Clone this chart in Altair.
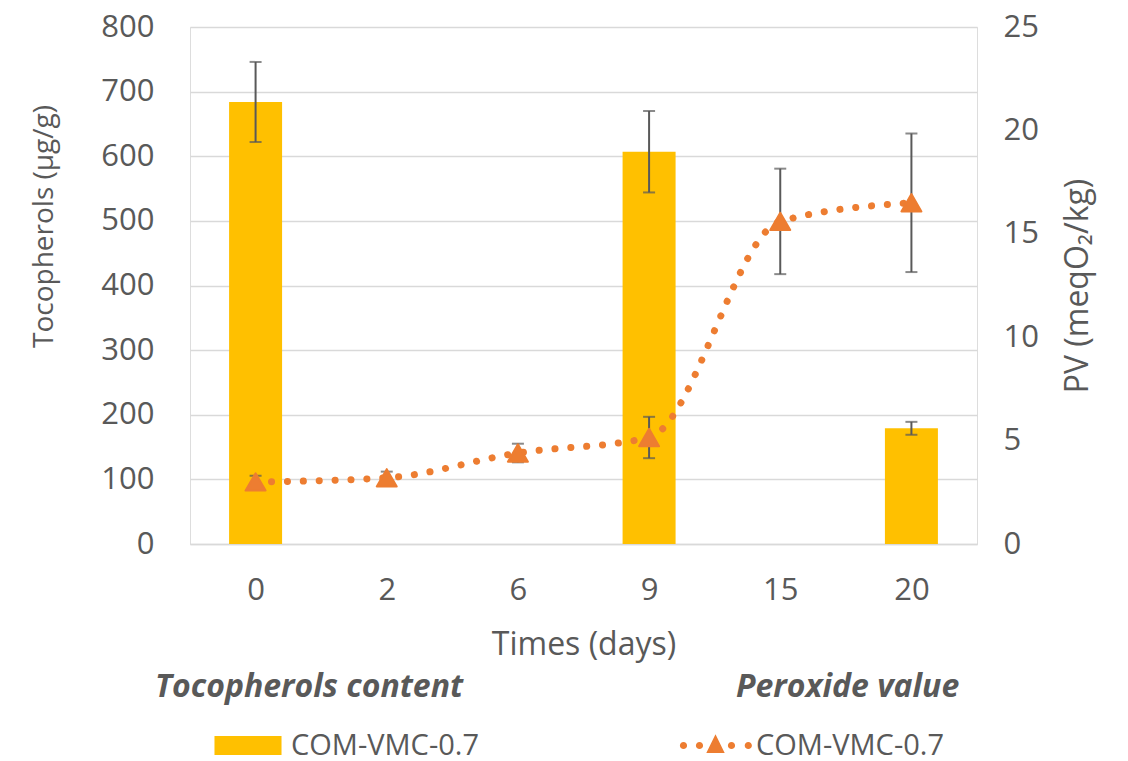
import altair as alt
import pandas as pd

# ---- data ----
days = ["0", "2", "6", "9", "15", "20"]
toco_days = ["0", "9", "20"]
toco = [684, 607, 179]
toco_sd = [62, 63, 10]
pv = [3.0, 3.2, 4.4, 5.15, 15.6, 16.5]
pv_sd = [0.3, 0.3, 0.45, 1.0, 2.55, 3.35]
series = "COM-VMC-0.7"

df_t = pd.DataFrame({
    "day": toco_days,
    "toco": toco,
    "lo": [v - s for v, s in zip(toco, toco_sd)],
    "hi": [v + s for v, s in zip(toco, toco_sd)],
    "tser": [series] * len(toco),
})
df_p = pd.DataFrame({
    "day": days,
    "pv": pv,
    "lo": [v - s for v, s in zip(pv, pv_sd)],
    "hi": [v + s for v, s in zip(pv, pv_sd)],
    "pser": [series] * len(pv),
})

FONT = "Open Sans"
GREY = "#595959"
GOLD = "#FFC000"
ORANGE = "#ED7D31"

x_enc = alt.X("day:O", sort=days, scale=alt.Scale(type="point", padding=0.5, domain=days),
              axis=alt.Axis(title="Times (days)", labelAngle=0, ticks=False, tickSize=0,
                            domain=True, domainColor="#D9D9D9", domainWidth=1.5,
                            labelFontSize=31, labelColor=GREY, labelFont=FONT, labelPadding=31,
                            titleFontSize=32, titleColor=GREY, titleFont=FONT,
                            titleFontWeight="normal", titlePadding=24))

y_left_scale = alt.Scale(domain=[0, 800], nice=False)
y_left_axis = alt.Axis(values=list(range(0, 801, 100)), grid=True, gridColor="#D9D9D9",
                       gridWidth=1.5, domain=False, ticks=False, tickSize=0,
                       labelFontSize=31, labelColor=GREY, labelFont=FONT, labelPadding=36,
                       title="Tocopherols (µg/g)", titleFontSize=28, titleColor=GREY,
                       titleFont=FONT, titleFontWeight="normal", titlePadding=42, titleY=199)

y_right_scale = alt.Scale(domain=[0, 25], nice=False)
y_right_axis = alt.Axis(orient="right", values=list(range(0, 26, 5)), grid=False,
                        domain=False, ticks=False, tickSize=0,
                        labelFontSize=31, labelColor=GREY, labelFont=FONT, labelPadding=26,
                        title="PV (meqO₂/kg)", titleFontSize=32, titleColor=GREY,
                        titleFont=FONT, titleFontWeight="normal", titlePadding=24,
                        titleAngle=270, titleBaseline="top")

# symbol unit = 8 px (symbolSize 256)
rect_sym = "M-4.19,-1.19L4.19,-1.19L4.19,1.19L-4.19,1.19Z"


def dot(cx, r=0.45):
    return (f"M{cx - r},0A{r},{r} 0 1,0 {cx + r},0A{r},{r} 0 1,0 {cx - r},0Z")


line_sym = dot(-4.0) + dot(-2.0) + dot(2.0) + dot(4.1) + "M0,-1.4L1.15,0.95L-1.15,0.95Z"

bars = alt.Chart(df_t).mark_bar(size=53).encode(
    x=x_enc,
    y=alt.Y("toco:Q", scale=y_left_scale, axis=y_left_axis),
    fill=alt.Fill("tser:N", scale=alt.Scale(domain=[series], range=[GOLD]),
                  legend=alt.Legend(orient="none", legendX=-35, legendY=645,
                                    title="Tocopherols content", titleFont=FONT,
                                    titleFontSize=32, titleFontWeight="bold",
                                    titleFontStyle="italic", titleColor=GREY,
                                    titlePadding=27, padding=0, titleLimit=600,
                                    labelFont=FONT, labelFontSize=29, labelColor=GREY,
                                    labelLimit=400,
                                    symbolType=rect_sym, symbolSize=256,
                                    symbolStrokeWidth=0, symbolOffset=78.5, labelOffset=28.5)),
)
bar_err = alt.Chart(df_t).mark_rule(color=GREY, strokeWidth=2).encode(
    x=alt.X("day:O", sort=days), y=alt.Y("lo:Q", scale=y_left_scale), y2="hi:Q")
bar_cap_lo = alt.Chart(df_t).mark_tick(color=GREY, size=12, thickness=2).encode(
    x=alt.X("day:O", sort=days), y=alt.Y("lo:Q", scale=y_left_scale))
bar_cap_hi = alt.Chart(df_t).mark_tick(color=GREY, size=12, thickness=2).encode(
    x=alt.X("day:O", sort=days), y=alt.Y("hi:Q", scale=y_left_scale))

left = alt.layer(bars, bar_err, bar_cap_lo, bar_cap_hi)

pv_line = alt.Chart(df_p).mark_line(color=ORANGE, strokeWidth=7, strokeCap="round",
                                     strokeDash=[0.1, 15.8], interpolate="monotone").encode(
    x=alt.X("day:O", sort=days),
    y=alt.Y("pv:Q", scale=y_right_scale, axis=y_right_axis),
)
pv_err = alt.Chart(df_p).mark_rule(color=GREY, strokeWidth=2).encode(
    x=alt.X("day:O", sort=days), y=alt.Y("lo:Q", scale=y_right_scale), y2="hi:Q")
pv_cap_lo = alt.Chart(df_p).mark_tick(color=GREY, size=12, thickness=2).encode(
    x=alt.X("day:O", sort=days), y=alt.Y("lo:Q", scale=y_right_scale))
pv_cap_hi = alt.Chart(df_p).mark_tick(color=GREY, size=12, thickness=2).encode(
    x=alt.X("day:O", sort=days), y=alt.Y("hi:Q", scale=y_right_scale))
pv_pts = alt.Chart(df_p).mark_point(shape="triangle-up", size=400, filled=True, opacity=1,
                                    stroke=ORANGE, strokeWidth=2, strokeJoin="round").encode(
    x=alt.X("day:O", sort=days),
    y=alt.Y("pv:Q", scale=y_right_scale),
    fill=alt.Fill("pser:N", scale=alt.Scale(domain=[series], range=[ORANGE]),
                  legend=alt.Legend(orient="none", legendX=546, legendY=645,
                                    title="Peroxide value", titleFont=FONT,
                                    titleFontSize=32, titleFontWeight="bold",
                                    titleFontStyle="italic", titleColor=GREY,
                                    titlePadding=27, padding=0, titleLimit=600,
                                    labelFont=FONT, labelFontSize=29, labelColor=GREY,
                                    labelLimit=400,
                                    symbolType=line_sym, symbolSize=256,
                                    symbolStrokeWidth=0, symbolOffset=-35, labelOffset=26)),
)

right = alt.layer(pv_err, pv_cap_lo, pv_cap_hi, pv_line, pv_pts)

chart = alt.layer(left, right).resolve_scale(y="independent", fill="independent").properties(
    width=787, height=517,
    autosize=alt.AutoSizeParams(type="none"),
    padding={"left": 182, "top": 19, "right": 120, "bottom": 217},
).configure_view(stroke=None).configure(background="white")

chart.save("out.html", embed_options={"renderer": "svg", "actions": False})
